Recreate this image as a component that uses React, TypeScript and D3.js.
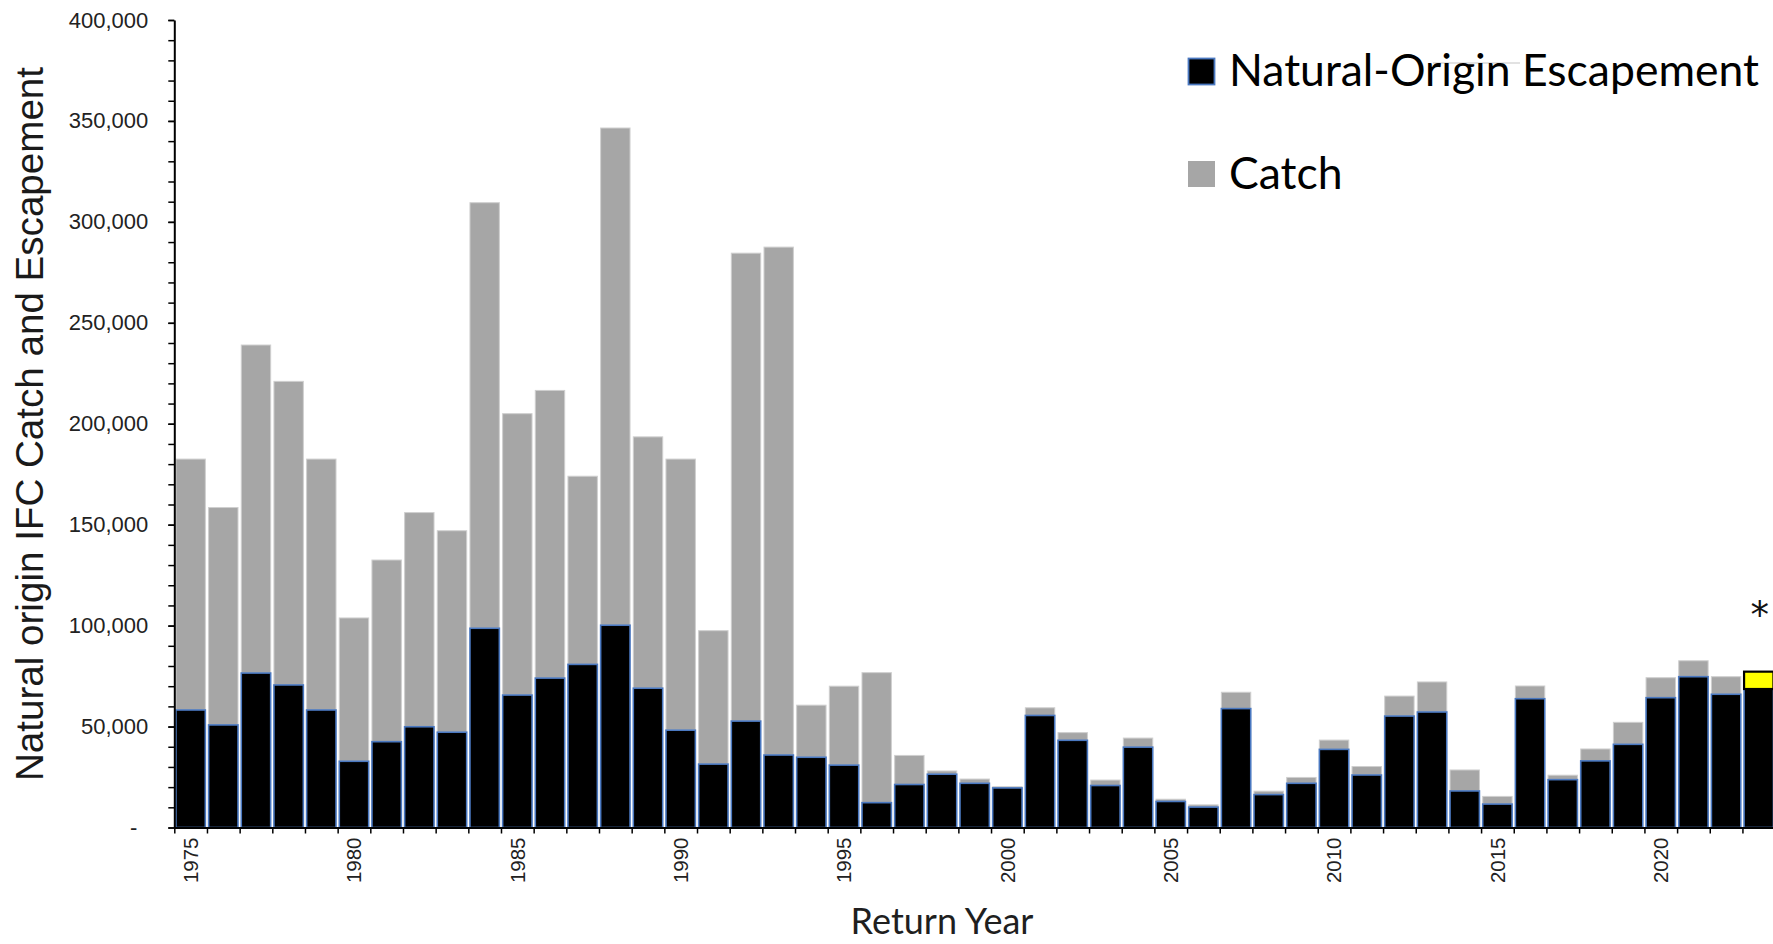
import React, { useEffect, useRef } from "react";
import * as d3 from "d3";

const years: number[] = d3.range(1975, 2024);

// Natural-origin escapement (fish)
const escapement: number[] = [
  58200, 50800, 76500, 70600, 58200, 32800, 42500, 49900, 47200, 98700,
  65600, 74000, 80800, 100200, 69000, 48200, 31400, 52700, 35900, 34800,
  30900, 12300, 21300, 26400, 21900, 19600, 55500, 43200, 20800, 39800,
  12900, 10100, 58900, 16300, 21900, 38700, 26000, 55200, 57200, 18100,
  11600, 63800, 23700, 33000, 41200, 64300, 74700, 66000, 68600,
];

// Catch (stacked on top of escapement)
const catchValues: number[] = [
  124300, 107700, 162500, 150400, 124300, 71000, 90000, 106100, 99800, 210800,
  139400, 142500, 93200, 246300, 124500, 134300, 66100, 231800, 251600, 25800,
  39100, 64400, 14400, 1600, 2100, 600, 3800, 3800, 2700, 4500,
  1100, 1100, 8100, 1700, 2900, 4600, 4200, 9900, 14900, 10400,
  3800, 6300, 2200, 5900, 10900, 9900, 7900, 8700, 8600,
];

const preliminaryYears: number[] = [2023];
const yTickValues: number[] = d3.range(0, 400001, 50000);
const yMinorTickValues: number[] = d3.range(0, 400001, 10000);
const xLabelYears: number[] = d3.range(1975, 2021, 5);
const legendItems: string[] = ["Natural-Origin Escapement", "Catch"];

const W = 1773;
const H = 944;
const X0 = 174.3;
const X1 = 1775.1;
const Y0 = 827.5;
const Y1 = 20;

export default function App() {
  const yAxisRef = useRef<SVGGElement>(null);
  const yMinorRef = useRef<SVGGElement>(null);
  const xTickRef = useRef<SVGGElement>(null);
  const xLabelRef = useRef<SVGGElement>(null);

  const x = d3
    .scaleBand<number>()
    .domain(years)
    .range([X0, X1])
    .paddingInner(0.1)
    .paddingOuter(0.05);
  const y = d3.scaleLinear().domain([0, 400000]).range([Y0, Y1]);
  const boundary = d3
    .scaleLinear()
    .domain([0, years.length])
    .range([X0, X1]);

  useEffect(() => {
    const fmt = d3.format(",");
    const ya = d3
      .select(yAxisRef.current!)
      .call(
        d3
          .axisLeft(y)
          .tickValues(yTickValues)
          .tickSize(6)
          .tickSizeOuter(0)
          .tickPadding(20)
          .tickFormat((v) => (+v === 0 ? "-" : fmt(+v)))
      );
    ya.select(".domain").attr("stroke", "#000").attr("stroke-width", 2);
    ya.selectAll(".tick line").attr("stroke", "#000").attr("stroke-width", 1.5);
    ya.selectAll(".tick text")
      .attr("font-family", "'Liberation Sans', Arial, sans-serif")
      .attr("font-size", 22)
      .attr("fill", "#222")
      .attr("dx", (d: any) => (+d === 0 ? -11 : 0));

    const ym = d3
      .select(yMinorRef.current!)
      .call(
        d3
          .axisLeft(y)
          .tickValues(yMinorTickValues)
          .tickSize(6)
          .tickSizeOuter(0)
          .tickFormat(() => "")
      );
    ym.select(".domain").remove();
    ym.selectAll(".tick line").attr("stroke", "#000").attr("stroke-width", 1.5);

    const xt = d3
      .select(xTickRef.current!)
      .call(
        d3
          .axisBottom(boundary)
          .tickValues(d3.range(0, years.length + 1))
          .tickSize(6)
          .tickSizeOuter(0)
          .tickFormat(() => "")
      );
    xt.select(".domain").attr("stroke", "#000").attr("stroke-width", 2);
    xt.selectAll(".tick line").attr("stroke", "#000").attr("stroke-width", 1.5);

    const xl = d3
      .select(xLabelRef.current!)
      .call(
        d3
          .axisBottom(x)
          .tickValues(xLabelYears)
          .tickSize(0)
          .tickSizeOuter(0)
          .tickFormat((v) => String(v))
      );
    xl.select(".domain").remove();
    xl.selectAll(".tick text")
      .attr("font-family", "'Liberation Sans', Arial, sans-serif")
      .attr("font-size", 20.5)
      .attr("fill", "#222")
      .attr("transform", "rotate(-90)")
      .attr("text-anchor", "end")
      .attr("x", -10)
      .attr("y", 0)
      .attr("dy", "0.36em");
  }, []);

  const bw = x.bandwidth();

  return (
    <svg
      width={W}
      height={H}
      style={{ position: "absolute", left: 0, top: 0, background: "#fff" }}
    >
      <rect x={0} y={0} width={W} height={H} fill="#fff" />
      {/* bars */}
      <g>
        {years.map((yr, i) => {
          const e = escapement[i];
          const c = catchValues[i];
          const prelim = preliminaryYears.includes(yr);
          const xi = x(yr)!;
          return (
            <g key={yr}>
              {!prelim && (
                <rect
                  x={xi}
                  y={y(e + c)}
                  width={bw}
                  height={y(e) - y(e + c)}
                  fill="#a6a6a6"
                  stroke="#cfcfcf"
                  strokeWidth={1}
                />
              )}
              <rect
                x={xi}
                y={y(e)}
                width={bw}
                height={y(0) - y(e)}
                fill="#000"
                stroke="#4a78c0"
                strokeWidth={1.6}
              />
              {prelim && (
                <rect
                  x={xi}
                  y={y(e + c)}
                  width={bw}
                  height={y(e) - y(e + c)}
                  fill="#ffff00"
                  stroke="#000"
                  strokeWidth={2.2}
                />
              )}
              {prelim && (
                <text
                  x={xi + bw / 2 + 1}
                  y={y(e + c) - 44}
                  textAnchor="middle"
                  fontFamily="'DejaVu Sans', sans-serif"
                  fontSize={37}
                  fill="#111"
                >
                  *
                </text>
              )}
            </g>
          );
        })}
      </g>

      <g ref={yMinorRef} transform={`translate(${X0},0)`} />
      <g ref={yAxisRef} transform={`translate(${X0},0)`} />
      <g ref={xTickRef} transform={`translate(0,${Y0})`} />
      <g ref={xLabelRef} transform={`translate(0,${Y0})`} />

      {/* Y axis title */}
      <text
        transform={`translate(43,424) rotate(-90)`}
        textAnchor="middle"
        fontFamily="'Liberation Sans', Arial, sans-serif"
        fontSize={38.6}
        fill="#1a1a1a"
      >
        Natural origin IFC Catch and Escapement
      </text>

      {/* X axis title */}
      <text
        x={942}
        y={934}
        textAnchor="middle"
        fontFamily="Lato, 'Noto Sans', sans-serif"
        fontSize={36}
        fill="#1f1f1f"
      >
        Return Year
      </text>

      {/* Legend */}
      <line x1={1433} x2={1520} y1={63} y2={63} stroke="#e2e2e2" strokeWidth={2} />
      <rect x={1188.5} y={58.5} width={26} height={26} fill="#000" stroke="#4a78c0" strokeWidth={1.8} />
      <text x={1229} y={86} fontFamily="Lato, 'Noto Sans', sans-serif" fontSize={44.5} fill="#000">
        {legendItems[0]}
      </text>
      <rect x={1188} y={161} width={27} height={26} fill="#a6a6a6" />
      <text x={1229} y={189} fontFamily="Lato, 'Noto Sans', sans-serif" fontSize={44.5} fill="#000">
        {legendItems[1]}
      </text>
    </svg>
  );
}
